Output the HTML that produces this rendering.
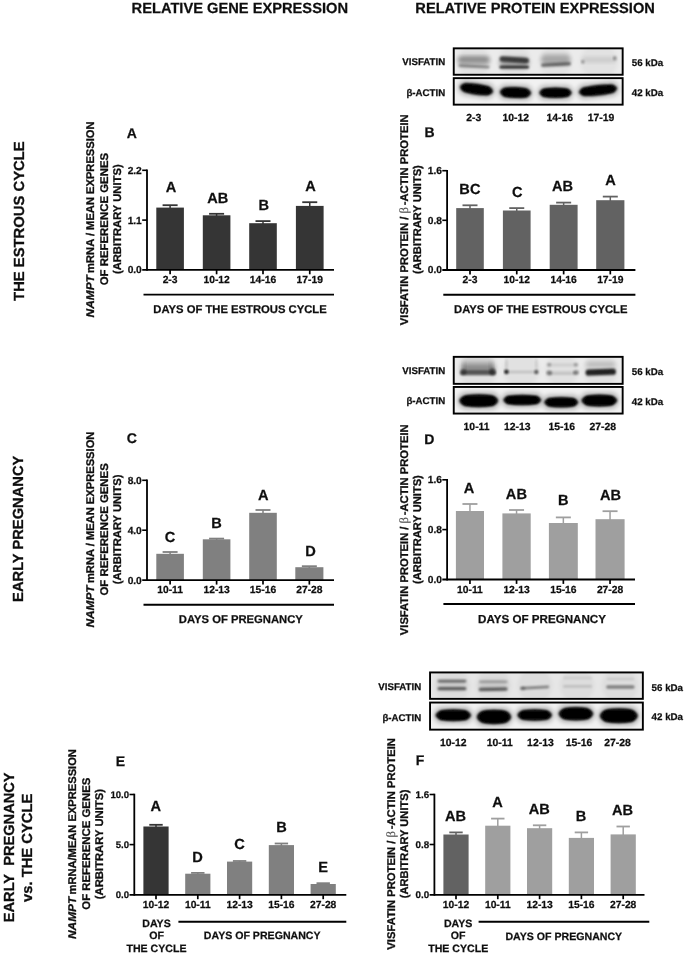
<!DOCTYPE html>
<html><head><meta charset="utf-8"><title>Figure</title>
<style>
html,body{margin:0;padding:0;background:#fff;}
body{width:685px;height:955px;overflow:hidden;font-family:"Liberation Sans",sans-serif;}
svg{display:block;}
</style></head><body>
<svg width="685" height="955" viewBox="0 0 685 955" text-rendering="geometricPrecision" font-family="Liberation Sans, sans-serif" font-weight="bold">
<defs>
<filter id="b1" x="-20%" y="-60%" width="140%" height="220%"><feGaussianBlur stdDeviation="1.1"/></filter>
<filter id="b2" x="-20%" y="-60%" width="140%" height="220%"><feGaussianBlur stdDeviation="2"/></filter>
<filter id="b3" x="-20%" y="-60%" width="140%" height="220%"><feGaussianBlur stdDeviation="2.6"/></filter>
<filter id="soft" x="0" y="0" width="685" height="955" filterUnits="userSpaceOnUse"><feGaussianBlur stdDeviation="0.4"/></filter>
<filter id="b0" x="-20%" y="-60%" width="140%" height="220%"><feGaussianBlur stdDeviation="0.7"/></filter>
</defs>
<rect width="685" height="955" fill="#fff"/>
<g filter="url(#soft)">
<text x="239.8" y="13.3" font-size="14.66" text-anchor="middle" fill="#111" stroke="#111" stroke-width="0.25" >RELATIVE GENE EXPRESSION</text>
<text x="535.1" y="12.9" font-size="14.64" text-anchor="middle" fill="#111" stroke="#111" stroke-width="0.25" >RELATIVE PROTEIN EXPRESSION</text>
<text transform="translate(24.1 300.9) rotate(-90)" font-size="14.6" text-anchor="start" textLength="159.60" lengthAdjust="spacingAndGlyphs" fill="#111" stroke="#111" stroke-width="0.3" >THE ESTROUS CYCLE</text>
<text transform="translate(22.9 601.9) rotate(-90)" font-size="14.6" text-anchor="start" textLength="146.30" lengthAdjust="spacingAndGlyphs" fill="#111" stroke="#111" stroke-width="0.3" >EARLY PREGNANCY</text>
<text transform="translate(13.7 922.2) rotate(-90)" font-size="14.6" text-anchor="start" textLength="149.80" lengthAdjust="spacingAndGlyphs" fill="#111" stroke="#111" stroke-width="0.3" >EARLY&#160; PREGNANCY</text>
<text transform="translate(32.0 902.0) rotate(-90)" font-size="14.6" text-anchor="start" textLength="108.30" lengthAdjust="spacingAndGlyphs" fill="#111" stroke="#111" stroke-width="0.3" >vs. THE CYCLE</text>
<text transform="translate(94.1 317.40000000000003) rotate(-90)" font-size="11.2" text-anchor="start" textLength="42.20" lengthAdjust="spacingAndGlyphs" fill="#111" stroke="#111" stroke-width="0.3" font-style="italic">NAMPT</text>
<text transform="translate(94.1 272.90000000000003) rotate(-90)" font-size="11.2" text-anchor="start" textLength="151.50" lengthAdjust="spacingAndGlyphs" fill="#111" stroke="#111" stroke-width="0.3" >mRNA / MEAN EXPRESSION</text>
<text transform="translate(108.0 285.3) rotate(-90)" font-size="11.2" text-anchor="start" textLength="132.40" lengthAdjust="spacingAndGlyphs" fill="#111" stroke="#111" stroke-width="0.3" >OF REFERENCE GENES</text>
<text transform="translate(121.3 274.1) rotate(-90)" font-size="11.2" text-anchor="start" textLength="109.80" lengthAdjust="spacingAndGlyphs" fill="#111" stroke="#111" stroke-width="0.3" >(ARBITRARY UNITS)</text>
<text x="131.7" y="138.2" font-size="14" text-anchor="middle" fill="#111" stroke="#111" stroke-width="0.25" >A</text>
<line x1="170.10000000000002" y1="205.2" x2="170.10000000000002" y2="208.6" stroke="#343434" stroke-width="1.5"/>
<line x1="162.60000000000002" y1="205.2" x2="177.60000000000002" y2="205.2" stroke="#343434" stroke-width="1.8"/>
<rect x="156.3" y="207.6" width="27.599999999999994" height="62.29999999999998" fill="#343434"/>
<line x1="216.60000000000002" y1="213.8" x2="216.60000000000002" y2="216.3" stroke="#343434" stroke-width="1.5"/>
<line x1="209.10000000000002" y1="213.8" x2="224.10000000000002" y2="213.8" stroke="#343434" stroke-width="1.8"/>
<rect x="202.8" y="215.3" width="27.599999999999994" height="54.599999999999966" fill="#343434"/>
<line x1="263.0" y1="221.1" x2="263.0" y2="224.2" stroke="#343434" stroke-width="1.5"/>
<line x1="255.5" y1="221.1" x2="270.5" y2="221.1" stroke="#343434" stroke-width="1.8"/>
<rect x="249.2" y="223.2" width="27.600000000000023" height="46.69999999999999" fill="#343434"/>
<line x1="309.75" y1="202.2" x2="309.75" y2="206.9" stroke="#343434" stroke-width="1.5"/>
<line x1="302.25" y1="202.2" x2="317.25" y2="202.2" stroke="#343434" stroke-width="1.8"/>
<rect x="295.9" y="205.9" width="27.700000000000045" height="63.99999999999997" fill="#343434"/>
<line x1="147" y1="169.5" x2="147" y2="270.79999999999995" stroke="#000" stroke-width="1.8"/>
<line x1="142.2" y1="269.9" x2="334" y2="269.9" stroke="#000" stroke-width="1.8"/>
<line x1="142.2" y1="170.3" x2="147" y2="170.3" stroke="#000" stroke-width="1.6"/>
<text x="141.8" y="173.70000000000002" font-size="10.2" text-anchor="end" fill="#111" stroke="#111" stroke-width="0.25" >2.2</text>
<line x1="142.2" y1="220.1" x2="147" y2="220.1" stroke="#000" stroke-width="1.6"/>
<text x="141.8" y="223.5" font-size="10.2" text-anchor="end" fill="#111" stroke="#111" stroke-width="0.25" >1.1</text>
<text x="141.8" y="273.29999999999995" font-size="10.2" text-anchor="end" fill="#111" stroke="#111" stroke-width="0.25" >0.0</text>
<line x1="170.10000000000002" y1="269.9" x2="170.10000000000002" y2="274.29999999999995" stroke="#000" stroke-width="1.7"/>
<text x="170.10000000000002" y="283.09999999999997" font-size="10.3" text-anchor="middle" fill="#111" stroke="#111" stroke-width="0.25" >2-3</text>
<line x1="216.60000000000002" y1="269.9" x2="216.60000000000002" y2="274.29999999999995" stroke="#000" stroke-width="1.7"/>
<text x="216.60000000000002" y="283.09999999999997" font-size="10.3" text-anchor="middle" fill="#111" stroke="#111" stroke-width="0.25" >10-12</text>
<line x1="263.0" y1="269.9" x2="263.0" y2="274.29999999999995" stroke="#000" stroke-width="1.7"/>
<text x="263.0" y="283.09999999999997" font-size="10.3" text-anchor="middle" fill="#111" stroke="#111" stroke-width="0.25" >14-16</text>
<line x1="309.75" y1="269.9" x2="309.75" y2="274.29999999999995" stroke="#000" stroke-width="1.7"/>
<text x="309.75" y="283.09999999999997" font-size="10.3" text-anchor="middle" fill="#111" stroke="#111" stroke-width="0.25" >17-19</text>
<text x="171" y="192.29999999999998" font-size="14.6" text-anchor="middle" fill="#111" stroke="#111" stroke-width="0.25" >A</text>
<text x="217.8" y="202.6" font-size="14.6" text-anchor="middle" fill="#111" stroke="#111" stroke-width="0.25" >AB</text>
<text x="263.8" y="209.6" font-size="14.6" text-anchor="middle" fill="#111" stroke="#111" stroke-width="0.25" >B</text>
<text x="310.6" y="190.9" font-size="14.6" text-anchor="middle" fill="#111" stroke="#111" stroke-width="0.25" >A</text>
<line x1="143.5" y1="294.6" x2="334" y2="294.6" stroke="#000" stroke-width="1.9"/>
<text x="240" y="312.8" font-size="11.25" text-anchor="middle" fill="#111" stroke="#111" stroke-width="0.25" >DAYS OF THE ESTROUS CYCLE</text>
<text transform="translate(94.1 627.5999999999999) rotate(-90)" font-size="11.2" text-anchor="start" textLength="42.20" lengthAdjust="spacingAndGlyphs" fill="#111" stroke="#111" stroke-width="0.3" font-style="italic">NAMPT</text>
<text transform="translate(94.1 583.1) rotate(-90)" font-size="11.2" text-anchor="start" textLength="151.50" lengthAdjust="spacingAndGlyphs" fill="#111" stroke="#111" stroke-width="0.3" >mRNA / MEAN EXPRESSION</text>
<text transform="translate(108.0 595.5) rotate(-90)" font-size="11.2" text-anchor="start" textLength="132.30" lengthAdjust="spacingAndGlyphs" fill="#111" stroke="#111" stroke-width="0.3" >OF REFERENCE GENES</text>
<text transform="translate(121.3 584.3) rotate(-90)" font-size="11.2" text-anchor="start" textLength="109.70" lengthAdjust="spacingAndGlyphs" fill="#111" stroke="#111" stroke-width="0.3" >(ARBITRARY UNITS)</text>
<text x="131.7" y="443" font-size="14" text-anchor="middle" fill="#111" stroke="#111" stroke-width="0.25" >C</text>
<line x1="170.10000000000002" y1="552.0" x2="170.10000000000002" y2="554.8" stroke="#808080" stroke-width="1.5"/>
<line x1="162.60000000000002" y1="552.0" x2="177.60000000000002" y2="552.0" stroke="#808080" stroke-width="1.8"/>
<rect x="156.3" y="553.8" width="27.599999999999994" height="26.40000000000009" fill="#808080"/>
<line x1="216.60000000000002" y1="538.6" x2="216.60000000000002" y2="540.3" stroke="#808080" stroke-width="1.5"/>
<line x1="209.10000000000002" y1="538.6" x2="224.10000000000002" y2="538.6" stroke="#808080" stroke-width="1.8"/>
<rect x="202.8" y="539.3" width="27.599999999999994" height="40.90000000000009" fill="#808080"/>
<line x1="263.0" y1="510" x2="263.0" y2="513.8" stroke="#808080" stroke-width="1.5"/>
<line x1="255.5" y1="510" x2="270.5" y2="510" stroke="#808080" stroke-width="1.8"/>
<rect x="249.2" y="512.8" width="27.600000000000023" height="67.40000000000009" fill="#808080"/>
<line x1="309.35" y1="566.2" x2="309.35" y2="568.2" stroke="#808080" stroke-width="1.5"/>
<line x1="301.85" y1="566.2" x2="316.85" y2="566.2" stroke="#808080" stroke-width="1.8"/>
<rect x="295.3" y="567.2" width="28.099999999999966" height="13.0" fill="#808080"/>
<line x1="147" y1="479.5" x2="147" y2="581.1" stroke="#000" stroke-width="1.8"/>
<line x1="142.2" y1="580.2" x2="334" y2="580.2" stroke="#000" stroke-width="1.8"/>
<line x1="142.2" y1="480.3" x2="147" y2="480.3" stroke="#000" stroke-width="1.6"/>
<text x="141.8" y="483.7" font-size="10.2" text-anchor="end" fill="#111" stroke="#111" stroke-width="0.25" >8.0</text>
<line x1="142.2" y1="530.2" x2="147" y2="530.2" stroke="#000" stroke-width="1.6"/>
<text x="141.8" y="533.6" font-size="10.2" text-anchor="end" fill="#111" stroke="#111" stroke-width="0.25" >4.0</text>
<text x="141.8" y="583.6" font-size="10.2" text-anchor="end" fill="#111" stroke="#111" stroke-width="0.25" >0.0</text>
<line x1="170.10000000000002" y1="580.2" x2="170.10000000000002" y2="584.6" stroke="#000" stroke-width="1.7"/>
<text x="170.10000000000002" y="593.4000000000001" font-size="10.3" text-anchor="middle" fill="#111" stroke="#111" stroke-width="0.25" >10-11</text>
<line x1="216.60000000000002" y1="580.2" x2="216.60000000000002" y2="584.6" stroke="#000" stroke-width="1.7"/>
<text x="216.60000000000002" y="593.4000000000001" font-size="10.3" text-anchor="middle" fill="#111" stroke="#111" stroke-width="0.25" >12-13</text>
<line x1="263.0" y1="580.2" x2="263.0" y2="584.6" stroke="#000" stroke-width="1.7"/>
<text x="263.0" y="593.4000000000001" font-size="10.3" text-anchor="middle" fill="#111" stroke="#111" stroke-width="0.25" >15-16</text>
<line x1="309.35" y1="580.2" x2="309.35" y2="584.6" stroke="#000" stroke-width="1.7"/>
<text x="309.35" y="593.4000000000001" font-size="10.3" text-anchor="middle" fill="#111" stroke="#111" stroke-width="0.25" >27-28</text>
<text x="170" y="542.4" font-size="14.6" text-anchor="middle" fill="#111" stroke="#111" stroke-width="0.25" >C</text>
<text x="216.6" y="528.3000000000001" font-size="14.6" text-anchor="middle" fill="#111" stroke="#111" stroke-width="0.25" >B</text>
<text x="263.3" y="499.6" font-size="14.6" text-anchor="middle" fill="#111" stroke="#111" stroke-width="0.25" >A</text>
<text x="310.4" y="555.7" font-size="14.6" text-anchor="middle" fill="#111" stroke="#111" stroke-width="0.25" >D</text>
<line x1="143.5" y1="604.8" x2="334" y2="604.8" stroke="#000" stroke-width="1.9"/>
<text x="240.8" y="623.4" font-size="11.25" text-anchor="middle" fill="#111" stroke="#111" stroke-width="0.25" >DAYS OF PREGNANCY</text>
<text transform="translate(76.2 939.0) rotate(-90)" font-size="11.2" text-anchor="start" textLength="42.20" lengthAdjust="spacingAndGlyphs" fill="#111" stroke="#111" stroke-width="0.3" font-style="italic">NAMPT</text>
<text transform="translate(76.2 894.5000000000001) rotate(-90)" font-size="11.2" text-anchor="start" textLength="145.40" lengthAdjust="spacingAndGlyphs" fill="#111" stroke="#111" stroke-width="0.3" >mRNA/MEAN EXPRESSION</text>
<text transform="translate(90.0 909.7) rotate(-90)" font-size="11.2" text-anchor="start" textLength="132.00" lengthAdjust="spacingAndGlyphs" fill="#111" stroke="#111" stroke-width="0.3" >OF REFERENCE GENES</text>
<text transform="translate(103.2 899.1999999999999) rotate(-90)" font-size="11.2" text-anchor="start" textLength="110.20" lengthAdjust="spacingAndGlyphs" fill="#111" stroke="#111" stroke-width="0.3" >(ARBITRARY UNITS)</text>
<text x="120.3" y="765.5" font-size="14" text-anchor="middle" fill="#111" stroke="#111" stroke-width="0.25" >E</text>
<line x1="156.0" y1="824.8" x2="156.0" y2="827.5" stroke="#343434" stroke-width="1.5"/>
<line x1="149.3" y1="824.8" x2="162.7" y2="824.8" stroke="#343434" stroke-width="1.8"/>
<rect x="143.4" y="826.5" width="25.19999999999999" height="68.29999999999995" fill="#343434"/>
<line x1="197.8" y1="872.9" x2="197.8" y2="874.7" stroke="#808080" stroke-width="1.5"/>
<line x1="191.10000000000002" y1="872.9" x2="204.5" y2="872.9" stroke="#808080" stroke-width="1.8"/>
<rect x="185.2" y="873.7" width="25.200000000000017" height="21.09999999999991" fill="#808080"/>
<line x1="239.6" y1="861.0" x2="239.6" y2="862.6" stroke="#808080" stroke-width="1.5"/>
<line x1="232.9" y1="861.0" x2="246.29999999999998" y2="861.0" stroke="#808080" stroke-width="1.8"/>
<rect x="227.0" y="861.6" width="25.19999999999999" height="33.19999999999993" fill="#808080"/>
<line x1="281.4" y1="843.5" x2="281.4" y2="846.1" stroke="#808080" stroke-width="1.5"/>
<line x1="274.7" y1="843.5" x2="288.09999999999997" y2="843.5" stroke="#808080" stroke-width="1.8"/>
<rect x="268.8" y="845.1" width="25.19999999999999" height="49.69999999999993" fill="#808080"/>
<line x1="323.20000000000005" y1="883.2" x2="323.20000000000005" y2="885.0" stroke="#808080" stroke-width="1.5"/>
<line x1="316.50000000000006" y1="883.2" x2="329.90000000000003" y2="883.2" stroke="#808080" stroke-width="1.8"/>
<rect x="310.6" y="884.0" width="25.19999999999999" height="10.799999999999955" fill="#808080"/>
<line x1="134.3" y1="793.7" x2="134.3" y2="895.6999999999999" stroke="#000" stroke-width="1.8"/>
<line x1="129.5" y1="894.8" x2="346.3" y2="894.8" stroke="#000" stroke-width="1.8"/>
<line x1="129.5" y1="794.5" x2="134.3" y2="794.5" stroke="#000" stroke-width="1.6"/>
<text x="129.10000000000002" y="797.7" font-size="9.6" text-anchor="end" fill="#111" stroke="#111" stroke-width="0.25" >10.0</text>
<line x1="129.5" y1="844.6" x2="134.3" y2="844.6" stroke="#000" stroke-width="1.6"/>
<text x="129.10000000000002" y="847.8000000000001" font-size="9.6" text-anchor="end" fill="#111" stroke="#111" stroke-width="0.25" >5.0</text>
<text x="129.10000000000002" y="898.0" font-size="9.6" text-anchor="end" fill="#111" stroke="#111" stroke-width="0.25" >0.0</text>
<line x1="156.0" y1="894.8" x2="156.0" y2="899.1999999999999" stroke="#000" stroke-width="1.7"/>
<text x="156.0" y="908.0" font-size="10.3" text-anchor="middle" fill="#111" stroke="#111" stroke-width="0.25" >10-12</text>
<line x1="197.8" y1="894.8" x2="197.8" y2="899.1999999999999" stroke="#000" stroke-width="1.7"/>
<text x="197.8" y="908.0" font-size="10.3" text-anchor="middle" fill="#111" stroke="#111" stroke-width="0.25" >10-11</text>
<line x1="239.6" y1="894.8" x2="239.6" y2="899.1999999999999" stroke="#000" stroke-width="1.7"/>
<text x="239.6" y="908.0" font-size="10.3" text-anchor="middle" fill="#111" stroke="#111" stroke-width="0.25" >12-13</text>
<line x1="281.4" y1="894.8" x2="281.4" y2="899.1999999999999" stroke="#000" stroke-width="1.7"/>
<text x="281.4" y="908.0" font-size="10.3" text-anchor="middle" fill="#111" stroke="#111" stroke-width="0.25" >15-16</text>
<line x1="323.20000000000005" y1="894.8" x2="323.20000000000005" y2="899.1999999999999" stroke="#000" stroke-width="1.7"/>
<text x="323.20000000000005" y="908.0" font-size="10.3" text-anchor="middle" fill="#111" stroke="#111" stroke-width="0.25" >27-28</text>
<text x="155.7" y="810.8000000000001" font-size="14.6" text-anchor="middle" fill="#111" stroke="#111" stroke-width="0.25" >A</text>
<text x="197.6" y="861.5" font-size="14.6" text-anchor="middle" fill="#111" stroke="#111" stroke-width="0.25" >D</text>
<text x="239.4" y="849.2" font-size="14.6" text-anchor="middle" fill="#111" stroke="#111" stroke-width="0.25" >C</text>
<text x="281.5" y="831.6" font-size="14.6" text-anchor="middle" fill="#111" stroke="#111" stroke-width="0.25" >B</text>
<text x="323" y="872.0" font-size="14.6" text-anchor="middle" fill="#111" stroke="#111" stroke-width="0.25" >E</text>
<line x1="178.4" y1="921.7" x2="346.3" y2="921.7" stroke="#000" stroke-width="1.9"/>
<text x="262.2" y="939.4" font-size="10.6" text-anchor="middle" fill="#111" stroke="#111" stroke-width="0.25" >DAYS OF PREGNANCY</text>
<text x="156.5" y="926.8" font-size="10.6" text-anchor="middle" fill="#111" stroke="#111" stroke-width="0.25" >DAYS</text>
<text x="156.5" y="939.3" font-size="10.6" text-anchor="middle" fill="#111" stroke="#111" stroke-width="0.25" >OF</text>
<text x="156.5" y="951.8" font-size="10.6" text-anchor="middle" fill="#111" stroke="#111" stroke-width="0.25" >THE CYCLE</text>
<text transform="translate(408.1 325.2) rotate(-90)" font-size="11.2" text-anchor="start" textLength="210.80" lengthAdjust="spacingAndGlyphs" fill="#111" stroke="#111" stroke-width="0.3" >VISFATIN PROTEIN / <tspan font-family="Liberation Serif, serif" font-weight="normal" fill="#555" stroke="#555" stroke-width="0.15" font-size="12.5">&#946;</tspan><tspan dx="1.8">-ACTIN PROTEIN</tspan></text>
<text transform="translate(421.0 273.90000000000003) rotate(-90)" font-size="11.2" text-anchor="start" textLength="108.70" lengthAdjust="spacingAndGlyphs" fill="#111" stroke="#111" stroke-width="0.3" >(ARBITRARY UNITS)</text>
<text x="429.5" y="137" font-size="14" text-anchor="middle" fill="#111" stroke="#111" stroke-width="0.25" >B</text>
<line x1="470.0" y1="205.3" x2="470.0" y2="209.1" stroke="#626262" stroke-width="1.5"/>
<line x1="462.5" y1="205.3" x2="477.5" y2="205.3" stroke="#626262" stroke-width="1.8"/>
<rect x="456.2" y="208.1" width="27.600000000000023" height="61.900000000000006" fill="#626262"/>
<line x1="516.75" y1="208.1" x2="516.75" y2="211.5" stroke="#626262" stroke-width="1.5"/>
<line x1="509.25" y1="208.1" x2="524.25" y2="208.1" stroke="#626262" stroke-width="1.8"/>
<rect x="502.9" y="210.5" width="27.700000000000045" height="59.5" fill="#626262"/>
<line x1="563.6500000000001" y1="202.6" x2="563.6500000000001" y2="205.8" stroke="#626262" stroke-width="1.5"/>
<line x1="556.1500000000001" y1="202.6" x2="571.1500000000001" y2="202.6" stroke="#626262" stroke-width="1.8"/>
<rect x="549.7" y="204.8" width="27.899999999999977" height="65.19999999999999" fill="#626262"/>
<line x1="610.3" y1="196.6" x2="610.3" y2="201.2" stroke="#626262" stroke-width="1.5"/>
<line x1="602.8" y1="196.6" x2="617.8" y2="196.6" stroke="#626262" stroke-width="1.8"/>
<rect x="596.2" y="200.2" width="28.199999999999932" height="69.80000000000001" fill="#626262"/>
<line x1="447.1" y1="169.89999999999998" x2="447.1" y2="270.9" stroke="#000" stroke-width="1.8"/>
<line x1="442.3" y1="270.0" x2="635.4" y2="270.0" stroke="#000" stroke-width="1.8"/>
<line x1="442.3" y1="170.7" x2="447.1" y2="170.7" stroke="#000" stroke-width="1.6"/>
<text x="441.90000000000003" y="174.1" font-size="10.2" text-anchor="end" fill="#111" stroke="#111" stroke-width="0.25" >1.6</text>
<line x1="442.3" y1="220.3" x2="447.1" y2="220.3" stroke="#000" stroke-width="1.6"/>
<text x="441.90000000000003" y="223.70000000000002" font-size="10.2" text-anchor="end" fill="#111" stroke="#111" stroke-width="0.25" >0.8</text>
<text x="441.90000000000003" y="273.4" font-size="10.2" text-anchor="end" fill="#111" stroke="#111" stroke-width="0.25" >0.0</text>
<line x1="470.0" y1="270.0" x2="470.0" y2="274.4" stroke="#000" stroke-width="1.7"/>
<text x="470.0" y="283.2" font-size="10.3" text-anchor="middle" fill="#111" stroke="#111" stroke-width="0.25" >2-3</text>
<line x1="516.75" y1="270.0" x2="516.75" y2="274.4" stroke="#000" stroke-width="1.7"/>
<text x="516.75" y="283.2" font-size="10.3" text-anchor="middle" fill="#111" stroke="#111" stroke-width="0.25" >10-12</text>
<line x1="563.6500000000001" y1="270.0" x2="563.6500000000001" y2="274.4" stroke="#000" stroke-width="1.7"/>
<text x="563.6500000000001" y="283.2" font-size="10.3" text-anchor="middle" fill="#111" stroke="#111" stroke-width="0.25" >14-16</text>
<line x1="610.3" y1="270.0" x2="610.3" y2="274.4" stroke="#000" stroke-width="1.7"/>
<text x="610.3" y="283.2" font-size="10.3" text-anchor="middle" fill="#111" stroke="#111" stroke-width="0.25" >17-19</text>
<text x="469.9" y="193.7" font-size="14.6" text-anchor="middle" fill="#111" stroke="#111" stroke-width="0.25" >BC</text>
<text x="517.2" y="196.79999999999998" font-size="14.6" text-anchor="middle" fill="#111" stroke="#111" stroke-width="0.25" >C</text>
<text x="562.5" y="190.9" font-size="14.6" text-anchor="middle" fill="#111" stroke="#111" stroke-width="0.25" >AB</text>
<text x="610.5" y="185.0" font-size="14.6" text-anchor="middle" fill="#111" stroke="#111" stroke-width="0.25" >A</text>
<line x1="443.3" y1="294.8" x2="635.4" y2="294.8" stroke="#000" stroke-width="1.9"/>
<text x="540.8" y="312.6" font-size="11.25" text-anchor="middle" fill="#111" stroke="#111" stroke-width="0.25" >DAYS OF THE ESTROUS CYCLE</text>
<text transform="translate(408.1 635.1999999999999) rotate(-90)" font-size="11.2" text-anchor="start" textLength="210.80" lengthAdjust="spacingAndGlyphs" fill="#111" stroke="#111" stroke-width="0.3" >VISFATIN PROTEIN / <tspan font-family="Liberation Serif, serif" font-weight="normal" fill="#555" stroke="#555" stroke-width="0.15" font-size="12.5">&#946;</tspan><tspan dx="1.8">-ACTIN PROTEIN</tspan></text>
<text transform="translate(421.0 583.9) rotate(-90)" font-size="11.2" text-anchor="start" textLength="108.70" lengthAdjust="spacingAndGlyphs" fill="#111" stroke="#111" stroke-width="0.3" >(ARBITRARY UNITS)</text>
<text x="429.2" y="444" font-size="14" text-anchor="middle" fill="#111" stroke="#111" stroke-width="0.25" >D</text>
<line x1="469.95" y1="504.0" x2="469.95" y2="512.0" stroke="#9f9f9f" stroke-width="1.5"/>
<line x1="462.45" y1="504.0" x2="477.45" y2="504.0" stroke="#9f9f9f" stroke-width="1.8"/>
<rect x="455.9" y="511.0" width="28.100000000000023" height="68.5" fill="#9f9f9f"/>
<line x1="516.55" y1="510.0" x2="516.55" y2="514.4" stroke="#9f9f9f" stroke-width="1.5"/>
<line x1="509.04999999999995" y1="510.0" x2="524.05" y2="510.0" stroke="#9f9f9f" stroke-width="1.8"/>
<rect x="502.4" y="513.4" width="28.300000000000068" height="66.10000000000002" fill="#9f9f9f"/>
<line x1="563.3499999999999" y1="517.4" x2="563.3499999999999" y2="524.0" stroke="#9f9f9f" stroke-width="1.5"/>
<line x1="555.8499999999999" y1="517.4" x2="570.8499999999999" y2="517.4" stroke="#9f9f9f" stroke-width="1.8"/>
<rect x="548.9" y="523.0" width="28.899999999999977" height="56.5" fill="#9f9f9f"/>
<line x1="610.05" y1="511.2" x2="610.05" y2="520.2" stroke="#9f9f9f" stroke-width="1.5"/>
<line x1="602.55" y1="511.2" x2="617.55" y2="511.2" stroke="#9f9f9f" stroke-width="1.8"/>
<rect x="595.5" y="519.2" width="29.100000000000023" height="60.299999999999955" fill="#9f9f9f"/>
<line x1="447.1" y1="479.0" x2="447.1" y2="580.4" stroke="#000" stroke-width="1.8"/>
<line x1="442.3" y1="579.5" x2="635.0" y2="579.5" stroke="#000" stroke-width="1.8"/>
<line x1="442.3" y1="479.8" x2="447.1" y2="479.8" stroke="#000" stroke-width="1.6"/>
<text x="441.90000000000003" y="483.2" font-size="10.2" text-anchor="end" fill="#111" stroke="#111" stroke-width="0.25" >1.6</text>
<line x1="442.3" y1="529.6" x2="447.1" y2="529.6" stroke="#000" stroke-width="1.6"/>
<text x="441.90000000000003" y="533.0" font-size="10.2" text-anchor="end" fill="#111" stroke="#111" stroke-width="0.25" >0.8</text>
<text x="441.90000000000003" y="582.9" font-size="10.2" text-anchor="end" fill="#111" stroke="#111" stroke-width="0.25" >0.0</text>
<line x1="469.95" y1="579.5" x2="469.95" y2="583.9" stroke="#000" stroke-width="1.7"/>
<text x="469.95" y="592.7" font-size="10.3" text-anchor="middle" fill="#111" stroke="#111" stroke-width="0.25" >10-11</text>
<line x1="516.55" y1="579.5" x2="516.55" y2="583.9" stroke="#000" stroke-width="1.7"/>
<text x="516.55" y="592.7" font-size="10.3" text-anchor="middle" fill="#111" stroke="#111" stroke-width="0.25" >12-13</text>
<line x1="563.3499999999999" y1="579.5" x2="563.3499999999999" y2="583.9" stroke="#000" stroke-width="1.7"/>
<text x="563.3499999999999" y="592.7" font-size="10.3" text-anchor="middle" fill="#111" stroke="#111" stroke-width="0.25" >15-16</text>
<line x1="610.05" y1="579.5" x2="610.05" y2="583.9" stroke="#000" stroke-width="1.7"/>
<text x="610.05" y="592.7" font-size="10.3" text-anchor="middle" fill="#111" stroke="#111" stroke-width="0.25" >27-28</text>
<text x="469.1" y="492.70000000000005" font-size="14.6" text-anchor="middle" fill="#111" stroke="#111" stroke-width="0.25" >A</text>
<text x="516.4" y="499.1" font-size="14.6" text-anchor="middle" fill="#111" stroke="#111" stroke-width="0.25" >AB</text>
<text x="563.3" y="505.0" font-size="14.6" text-anchor="middle" fill="#111" stroke="#111" stroke-width="0.25" >B</text>
<text x="610.5" y="499.8" font-size="14.6" text-anchor="middle" fill="#111" stroke="#111" stroke-width="0.25" >AB</text>
<line x1="443.4" y1="604.0" x2="635.0" y2="604.0" stroke="#000" stroke-width="1.9"/>
<text x="542.0" y="622.8" font-size="11.6" text-anchor="middle" fill="#111" stroke="#111" stroke-width="0.25" >DAYS OF PREGNANCY</text>
<text transform="translate(394.5 949.6999999999999) rotate(-90)" font-size="11.2" text-anchor="start" textLength="211.60" lengthAdjust="spacingAndGlyphs" fill="#111" stroke="#111" stroke-width="0.3" >VISFATIN PROTEIN / <tspan font-family="Liberation Serif, serif" font-weight="normal" fill="#555" stroke="#555" stroke-width="0.15" font-size="12.5">&#946;</tspan><tspan dx="1.8">-ACTIN PROTEIN</tspan></text>
<text transform="translate(407.5 898.3) rotate(-90)" font-size="11.2" text-anchor="start" textLength="108.70" lengthAdjust="spacingAndGlyphs" fill="#111" stroke="#111" stroke-width="0.3" >(ARBITRARY UNITS)</text>
<text x="420" y="764.5" font-size="14" text-anchor="middle" fill="#111" stroke="#111" stroke-width="0.25" >F</text>
<line x1="456.0" y1="832.4" x2="456.0" y2="835.5" stroke="#626262" stroke-width="1.5"/>
<line x1="449.3" y1="832.4" x2="462.7" y2="832.4" stroke="#626262" stroke-width="1.8"/>
<rect x="443.4" y="834.5" width="25.200000000000045" height="60.299999999999955" fill="#626262"/>
<line x1="497.79999999999995" y1="818.6" x2="497.79999999999995" y2="826.7" stroke="#9f9f9f" stroke-width="1.5"/>
<line x1="491.09999999999997" y1="818.6" x2="504.49999999999994" y2="818.6" stroke="#9f9f9f" stroke-width="1.8"/>
<rect x="485.2" y="825.7" width="25.19999999999999" height="69.09999999999991" fill="#9f9f9f"/>
<line x1="539.6" y1="825.3" x2="539.6" y2="829.2" stroke="#9f9f9f" stroke-width="1.5"/>
<line x1="532.9" y1="825.3" x2="546.3000000000001" y2="825.3" stroke="#9f9f9f" stroke-width="1.8"/>
<rect x="527.0" y="828.2" width="25.200000000000045" height="66.59999999999991" fill="#9f9f9f"/>
<line x1="581.4" y1="832.4" x2="581.4" y2="838.9" stroke="#9f9f9f" stroke-width="1.5"/>
<line x1="574.6999999999999" y1="832.4" x2="588.1" y2="832.4" stroke="#9f9f9f" stroke-width="1.8"/>
<rect x="568.8" y="837.9" width="25.200000000000045" height="56.89999999999998" fill="#9f9f9f"/>
<line x1="623.2" y1="826.5" x2="623.2" y2="835.4" stroke="#9f9f9f" stroke-width="1.5"/>
<line x1="616.5" y1="826.5" x2="629.9000000000001" y2="826.5" stroke="#9f9f9f" stroke-width="1.8"/>
<rect x="610.6" y="834.4" width="25.199999999999932" height="60.39999999999998" fill="#9f9f9f"/>
<line x1="434.4" y1="793.7" x2="434.4" y2="895.6999999999999" stroke="#000" stroke-width="1.8"/>
<line x1="429.59999999999997" y1="894.8" x2="644.5" y2="894.8" stroke="#000" stroke-width="1.8"/>
<line x1="429.59999999999997" y1="794.5" x2="434.4" y2="794.5" stroke="#000" stroke-width="1.6"/>
<text x="429.2" y="797.7666666666667" font-size="9.8" text-anchor="end" fill="#111" stroke="#111" stroke-width="0.25" >1.6</text>
<line x1="429.59999999999997" y1="844.5" x2="434.4" y2="844.5" stroke="#000" stroke-width="1.6"/>
<text x="429.2" y="847.7666666666667" font-size="9.8" text-anchor="end" fill="#111" stroke="#111" stroke-width="0.25" >0.8</text>
<text x="429.2" y="898.0666666666666" font-size="9.8" text-anchor="end" fill="#111" stroke="#111" stroke-width="0.25" >0.0</text>
<line x1="456.0" y1="894.8" x2="456.0" y2="899.1999999999999" stroke="#000" stroke-width="1.7"/>
<text x="456.0" y="908.0" font-size="10.3" text-anchor="middle" fill="#111" stroke="#111" stroke-width="0.25" >10-12</text>
<line x1="497.79999999999995" y1="894.8" x2="497.79999999999995" y2="899.1999999999999" stroke="#000" stroke-width="1.7"/>
<text x="497.79999999999995" y="908.0" font-size="10.3" text-anchor="middle" fill="#111" stroke="#111" stroke-width="0.25" >10-11</text>
<line x1="539.6" y1="894.8" x2="539.6" y2="899.1999999999999" stroke="#000" stroke-width="1.7"/>
<text x="539.6" y="908.0" font-size="10.3" text-anchor="middle" fill="#111" stroke="#111" stroke-width="0.25" >12-13</text>
<line x1="581.4" y1="894.8" x2="581.4" y2="899.1999999999999" stroke="#000" stroke-width="1.7"/>
<text x="581.4" y="908.0" font-size="10.3" text-anchor="middle" fill="#111" stroke="#111" stroke-width="0.25" >15-16</text>
<line x1="623.2" y1="894.8" x2="623.2" y2="899.1999999999999" stroke="#000" stroke-width="1.7"/>
<text x="623.2" y="908.0" font-size="10.3" text-anchor="middle" fill="#111" stroke="#111" stroke-width="0.25" >27-28</text>
<text x="455.6" y="821.2" font-size="14.6" text-anchor="middle" fill="#111" stroke="#111" stroke-width="0.25" >AB</text>
<text x="497.4" y="806.9" font-size="14.6" text-anchor="middle" fill="#111" stroke="#111" stroke-width="0.25" >A</text>
<text x="539.2" y="813.6" font-size="14.6" text-anchor="middle" fill="#111" stroke="#111" stroke-width="0.25" >AB</text>
<text x="581.0" y="820.6" font-size="14.6" text-anchor="middle" fill="#111" stroke="#111" stroke-width="0.25" >B</text>
<text x="622.6" y="814.6" font-size="14.6" text-anchor="middle" fill="#111" stroke="#111" stroke-width="0.25" >AB</text>
<line x1="478.6" y1="921.7" x2="649.3" y2="921.7" stroke="#000" stroke-width="1.9"/>
<text x="563.8" y="939.8" font-size="10.6" text-anchor="middle" fill="#111" stroke="#111" stroke-width="0.25" >DAYS OF PREGNANCY</text>
<text x="458.2" y="926.8" font-size="10.6" text-anchor="middle" fill="#111" stroke="#111" stroke-width="0.25" >DAYS</text>
<text x="458.2" y="939.3" font-size="10.6" text-anchor="middle" fill="#111" stroke="#111" stroke-width="0.25" >OF</text>
<text x="458.2" y="951.8" font-size="10.6" text-anchor="middle" fill="#111" stroke="#111" stroke-width="0.25" >THE CYCLE</text>
<clipPath id="cv1"><rect x="452.8" y="47.4" width="170.8" height="28.300000000000004"/></clipPath>
<clipPath id="ca1"><rect x="452.8" y="77.2" width="170.8" height="28.39999999999999"/></clipPath>
<rect x="452.8" y="47.4" width="170.8" height="28.300000000000004" fill="#ebebeb"/>
<rect x="452.8" y="77.2" width="170.8" height="28.39999999999999" fill="#f1f1f1"/>
<g clip-path="url(#cv1)">
<rect x="457" y="44.5" width="34" height="34" rx="17.0" fill="#000" opacity="0.035" filter="url(#b2)" transform="rotate(0 474.0 61.5)"/>
<rect x="498" y="44.5" width="33" height="34" rx="17.0" fill="#000" opacity="0.035" filter="url(#b2)" transform="rotate(0 514.5 61.5)"/>
<rect x="539" y="44.5" width="33" height="34" rx="17.0" fill="#000" opacity="0.035" filter="url(#b2)" transform="rotate(0 555.5 61.5)"/>
<rect x="580" y="44.5" width="38" height="34" rx="17.0" fill="#000" opacity="0.035" filter="url(#b2)" transform="rotate(0 599.0 61.5)"/>
<rect x="458" y="57.3" width="31.600000000000023" height="4" rx="2.0" fill="#000" opacity="0.3" filter="url(#b2)" transform="rotate(0 473.8 59.3)"/>
<rect x="458.5" y="64.89999999999999" width="31.100000000000023" height="2.8" rx="1.4" fill="#000" opacity="0.36" filter="url(#b1)" transform="rotate(3 474.05 66.3)"/>
<rect x="458" y="55.5" width="31.5" height="11" rx="5.5" fill="#000" opacity="0.2" filter="url(#b2)" transform="rotate(0 473.75 61)"/>
<rect x="499.5" y="57.05" width="29.5" height="5.5" rx="2.75" fill="#000" opacity="0.66" filter="url(#b1)" transform="rotate(4 514.25 59.8)"/>
<rect x="499.5" y="65.8" width="29.5" height="2.8" rx="1.4" fill="#000" opacity="0.8" filter="url(#b1)" transform="rotate(0 514.25 67.2)"/>
<rect x="499.5" y="57.0" width="29.5" height="11" rx="5.5" fill="#000" opacity="0.28" filter="url(#b2)" transform="rotate(0 514.25 62.5)"/>
<rect x="541" y="62.8" width="30" height="3.4" rx="1.7" fill="#000" opacity="0.5" filter="url(#b1)" transform="rotate(-3 556.0 64.5)"/>
<rect x="541" y="54.5" width="29.5" height="10" rx="5.0" fill="#000" opacity="0.26" filter="url(#b2)" transform="rotate(0 555.75 59.5)"/>
<rect x="582" y="57.55" width="34" height="4.5" rx="2.25" fill="#000" opacity="0.12" filter="url(#b2)" transform="rotate(0 599.0 59.8)"/>
<ellipse cx="582.8" cy="61.8" rx="1.7" ry="1.9" fill="#000" opacity="0.32" filter="url(#b1)" transform="rotate(0 582.8 61.8)"/>
<ellipse cx="614.8" cy="58.2" rx="1.7" ry="2.3" fill="#000" opacity="0.34" filter="url(#b1)" transform="rotate(0 614.8 58.2)"/>
</g><g clip-path="url(#ca1)">
<rect x="458.5" y="81.95" width="36.0" height="14.5" rx="7.25" fill="#000" opacity="0.3" filter="url(#b3)" transform="rotate(8 476.5 89.2)"/>
<ellipse cx="476.5" cy="89.2" rx="16.8" ry="5.5" fill="#000" opacity="0.85" filter="url(#b1)" transform="rotate(8 476.5 89.2)"/>
<rect x="461.8" y="84.9" width="29.399999999999977" height="8.6" rx="4.3" fill="#000" opacity="0.96" filter="url(#b1)" transform="rotate(8 476.5 89.2)"/>
<rect x="498.5" y="85.35" width="34.0" height="14.5" rx="7.25" fill="#000" opacity="0.3" filter="url(#b3)" transform="rotate(2 515.5 92.6)"/>
<ellipse cx="515.5" cy="92.6" rx="15.8" ry="5.5" fill="#000" opacity="0.85" filter="url(#b1)" transform="rotate(2 515.5 92.6)"/>
<rect x="501.8" y="88.3" width="27.400000000000034" height="8.6" rx="4.3" fill="#000" opacity="0.96" filter="url(#b1)" transform="rotate(2 515.5 92.6)"/>
<rect x="538.0" y="85.8" width="35.0" height="14.0" rx="7.0" fill="#000" opacity="0.3" filter="url(#b3)" transform="rotate(0 555.5 92.8)"/>
<ellipse cx="555.5" cy="92.8" rx="16.3" ry="5.25" fill="#000" opacity="0.85" filter="url(#b1)" transform="rotate(0 555.5 92.8)"/>
<rect x="541.3" y="88.75" width="28.40000000000009" height="8.1" rx="4.05" fill="#000" opacity="0.96" filter="url(#b1)" transform="rotate(0 555.5 92.8)"/>
<rect x="577.5" y="83.2" width="41.0" height="14.0" rx="7.0" fill="#000" opacity="0.3" filter="url(#b3)" transform="rotate(-6 598.0 90.2)"/>
<ellipse cx="598.0" cy="90.2" rx="19.3" ry="5.25" fill="#000" opacity="0.85" filter="url(#b1)" transform="rotate(-6 598.0 90.2)"/>
<rect x="580.8" y="86.15" width="34.40000000000009" height="8.1" rx="4.05" fill="#000" opacity="0.96" filter="url(#b1)" transform="rotate(-6 598.0 90.2)"/>
</g>
<rect x="453.75" y="48.35" width="168.9" height="26.400000000000006" fill="none" stroke="#000" stroke-width="1.9"/>
<rect x="453.75" y="78.15" width="168.9" height="26.499999999999993" fill="none" stroke="#000" stroke-width="1.9"/>
<text x="445.2" y="65.0" font-size="9.7" text-anchor="end" fill="#111" stroke="#111" stroke-width="0.25" >VISFATIN</text>
<text x="445.2" y="95.5" font-size="9.7" text-anchor="end" fill="#111" stroke="#111" stroke-width="0.25" >&#946;-ACTIN</text>
<text x="631.8" y="65.9" font-size="9.75" text-anchor="start" fill="#111" stroke="#111" stroke-width="0.25" >56 kDa</text>
<text x="631.8" y="96.1" font-size="9.75" text-anchor="start" fill="#111" stroke="#111" stroke-width="0.25" >42 kDa</text>
<text x="473.8" y="120.5" font-size="10.4" text-anchor="middle" fill="#111" stroke="#111" stroke-width="0.25" >2-3</text>
<text x="515.7" y="120.5" font-size="10.4" text-anchor="middle" fill="#111" stroke="#111" stroke-width="0.25" >10-12</text>
<text x="559.7" y="120.5" font-size="10.4" text-anchor="middle" fill="#111" stroke="#111" stroke-width="0.25" >14-16</text>
<text x="601" y="120.5" font-size="10.4" text-anchor="middle" fill="#111" stroke="#111" stroke-width="0.25" >17-19</text>
<clipPath id="cv2"><rect x="452.8" y="355.9" width="170.8" height="28.900000000000034"/></clipPath>
<clipPath id="ca2"><rect x="452.8" y="386.0" width="170.8" height="28.5"/></clipPath>
<rect x="452.8" y="355.9" width="170.8" height="28.900000000000034" fill="#ebebeb"/>
<rect x="452.8" y="386.0" width="170.8" height="28.5" fill="#f1f1f1"/>
<g clip-path="url(#cv2)">
<rect x="458" y="353.0" width="40" height="34" rx="17.0" fill="#000" opacity="0.04" filter="url(#b2)" transform="rotate(0 478.0 370)"/>
<rect x="503" y="353.0" width="37" height="34" rx="17.0" fill="#000" opacity="0.04" filter="url(#b2)" transform="rotate(0 521.5 370)"/>
<rect x="545" y="353.0" width="34" height="34" rx="17.0" fill="#000" opacity="0.04" filter="url(#b2)" transform="rotate(0 562.0 370)"/>
<rect x="583" y="353.0" width="35" height="34" rx="17.0" fill="#000" opacity="0.04" filter="url(#b2)" transform="rotate(0 600.5 370)"/>
<rect x="460" y="370.2" width="36" height="5" rx="2.5" fill="#000" opacity="0.55" filter="url(#b1)" transform="rotate(0 478.0 372.7)"/>
<rect x="461" y="365.5" width="34" height="7" rx="3.5" fill="#000" opacity="0.3" filter="url(#b2)" transform="rotate(0 478.0 369)"/>
<rect x="462" y="360.5" width="32" height="9" rx="4.5" fill="#000" opacity="0.2" filter="url(#b3)" transform="rotate(0 478.0 365)"/>
<ellipse cx="492.5" cy="371.8" rx="3.2" ry="3.8" fill="#000" opacity="0.45" filter="url(#b1)" transform="rotate(0 492.5 371.8)"/>
<ellipse cx="463.5" cy="372" rx="3" ry="3.2" fill="#000" opacity="0.35" filter="url(#b1)" transform="rotate(0 463.5 372)"/>
<rect x="462" y="361.5" width="4" height="9" rx="4.5" fill="#000" opacity="0.14" filter="url(#b2)" transform="rotate(0 464.0 366)"/>
<rect x="489.5" y="361.5" width="4.0" height="9" rx="4.5" fill="#000" opacity="0.16" filter="url(#b2)" transform="rotate(0 491.5 366)"/>
<ellipse cx="506.4" cy="371.8" rx="2.3" ry="2.4" fill="#000" opacity="0.85" filter="url(#b1)" transform="rotate(0 506.4 371.8)"/>
<ellipse cx="536.4" cy="372.0" rx="2.1" ry="2.3" fill="#000" opacity="0.6" filter="url(#b1)" transform="rotate(0 536.4 372.0)"/>
<rect x="507" y="370.75" width="29" height="2.5" rx="1.25" fill="#000" opacity="0.14" filter="url(#b1)" transform="rotate(0 521.5 372)"/>
<ellipse cx="549" cy="364.7" rx="2.2" ry="2" fill="#000" opacity="0.28" filter="url(#b1)" transform="rotate(0 549 364.7)"/>
<ellipse cx="576" cy="364.7" rx="2.2" ry="2" fill="#000" opacity="0.28" filter="url(#b1)" transform="rotate(0 576 364.7)"/>
<ellipse cx="549.2" cy="372.9" rx="2.8" ry="2.3" fill="#000" opacity="0.42" filter="url(#b1)" transform="rotate(0 549.2 372.9)"/>
<ellipse cx="576" cy="372.5" rx="2.8" ry="2.3" fill="#000" opacity="0.42" filter="url(#b1)" transform="rotate(0 576 372.5)"/>
<rect x="549" y="371.55" width="27" height="3.5" rx="1.75" fill="#000" opacity="0.13" filter="url(#b1)" transform="rotate(0 562.5 373.3)"/>
<rect x="549" y="363.5" width="27" height="3" rx="1.5" fill="#000" opacity="0.08" filter="url(#b1)" transform="rotate(0 562.5 365)"/>
<rect x="505.2" y="358.0" width="2.400000000000034" height="12" rx="6.0" fill="#000" opacity="0.12" filter="url(#b1)" transform="rotate(0 506.4 364)"/>
<rect x="535.2" y="358.0" width="2.3999999999999773" height="12" rx="6.0" fill="#000" opacity="0.1" filter="url(#b1)" transform="rotate(0 536.4000000000001 364)"/>
<rect x="585.5" y="369.09999999999997" width="30.5" height="6.2" rx="3.1" fill="#000" opacity="0.85" filter="url(#b1)" transform="rotate(-2 600.75 372.2)"/>
<rect x="586" y="362.0" width="29" height="5" rx="2.5" fill="#000" opacity="0.18" filter="url(#b2)" transform="rotate(0 600.5 364.5)"/>
</g><g clip-path="url(#ca2)">
<rect x="458.0" y="392.45" width="41.5" height="16.5" rx="8.25" fill="#000" opacity="0.3" filter="url(#b3)" transform="rotate(0 478.75 400.7)"/>
<ellipse cx="478.75" cy="400.7" rx="19.55" ry="6.5" fill="#000" opacity="0.85" filter="url(#b1)" transform="rotate(0 478.75 400.7)"/>
<rect x="461.3" y="395.4" width="34.89999999999998" height="10.6" rx="5.3" fill="#000" opacity="0.96" filter="url(#b1)" transform="rotate(0 478.75 400.7)"/>
<rect x="502.0" y="393.0" width="40.5" height="14.0" rx="7.0" fill="#000" opacity="0.3" filter="url(#b3)" transform="rotate(0 522.25 400)"/>
<ellipse cx="522.25" cy="400" rx="19.05" ry="5.25" fill="#000" opacity="0.85" filter="url(#b1)" transform="rotate(0 522.25 400)"/>
<rect x="505.3" y="395.95" width="33.900000000000034" height="8.1" rx="4.05" fill="#000" opacity="0.96" filter="url(#b1)" transform="rotate(0 522.25 400)"/>
<rect x="543.0" y="395.2" width="36.5" height="14.0" rx="7.0" fill="#000" opacity="0.3" filter="url(#b3)" transform="rotate(0 561.25 402.2)"/>
<ellipse cx="561.25" cy="402.2" rx="17.05" ry="5.25" fill="#000" opacity="0.85" filter="url(#b1)" transform="rotate(0 561.25 402.2)"/>
<rect x="546.3" y="398.15" width="29.90000000000009" height="8.1" rx="4.05" fill="#000" opacity="0.96" filter="url(#b1)" transform="rotate(0 561.25 402.2)"/>
<rect x="580.2" y="392.85" width="38.299999999999955" height="15.5" rx="7.75" fill="#000" opacity="0.3" filter="url(#b3)" transform="rotate(0 599.35 400.6)"/>
<ellipse cx="599.35" cy="400.6" rx="17.949999999999978" ry="6.0" fill="#000" opacity="0.85" filter="url(#b1)" transform="rotate(0 599.35 400.6)"/>
<rect x="583.5" y="395.8" width="31.700000000000045" height="9.6" rx="4.8" fill="#000" opacity="0.96" filter="url(#b1)" transform="rotate(0 599.35 400.6)"/>
</g>
<rect x="453.75" y="356.84999999999997" width="168.9" height="27.000000000000036" fill="none" stroke="#000" stroke-width="1.9"/>
<rect x="453.75" y="386.95" width="168.9" height="26.6" fill="none" stroke="#000" stroke-width="1.9"/>
<text x="445.2" y="374.2" font-size="9.7" text-anchor="end" fill="#111" stroke="#111" stroke-width="0.25" >VISFATIN</text>
<text x="445.2" y="404.3" font-size="9.7" text-anchor="end" fill="#111" stroke="#111" stroke-width="0.25" >&#946;-ACTIN</text>
<text x="631.8" y="375.0" font-size="9.75" text-anchor="start" fill="#111" stroke="#111" stroke-width="0.25" >56 kDa</text>
<text x="631.8" y="404.8" font-size="9.75" text-anchor="start" fill="#111" stroke="#111" stroke-width="0.25" >42 kDa</text>
<text x="476.6" y="430.3" font-size="10.4" text-anchor="middle" fill="#111" stroke="#111" stroke-width="0.25" >10-11</text>
<text x="517.2" y="430.3" font-size="10.4" text-anchor="middle" fill="#111" stroke="#111" stroke-width="0.25" >12-13</text>
<text x="561.7" y="430.3" font-size="10.4" text-anchor="middle" fill="#111" stroke="#111" stroke-width="0.25" >15-16</text>
<text x="602.7" y="430.3" font-size="10.4" text-anchor="middle" fill="#111" stroke="#111" stroke-width="0.25" >27-28</text>
<clipPath id="cv3"><rect x="429.1" y="671.5" width="214.69999999999993" height="28.299999999999955"/></clipPath>
<clipPath id="ca3"><rect x="429.1" y="701.6" width="214.69999999999993" height="29.0"/></clipPath>
<rect x="429.1" y="671.5" width="214.69999999999993" height="28.299999999999955" fill="#e6e6e6"/>
<rect x="429.1" y="701.6" width="214.69999999999993" height="29.0" fill="#f1f1f1"/>
<g clip-path="url(#cv3)">
<rect x="434" y="668.5" width="36" height="34" rx="17.0" fill="#000" opacity="0.04" filter="url(#b2)" transform="rotate(0 452.0 685.5)"/>
<rect x="476" y="668.5" width="35" height="34" rx="17.0" fill="#000" opacity="0.04" filter="url(#b2)" transform="rotate(0 493.5 685.5)"/>
<rect x="518" y="668.5" width="34" height="34" rx="17.0" fill="#000" opacity="0.04" filter="url(#b2)" transform="rotate(0 535.0 685.5)"/>
<rect x="560" y="668.5" width="34" height="34" rx="17.0" fill="#000" opacity="0.04" filter="url(#b2)" transform="rotate(0 577.0 685.5)"/>
<rect x="602" y="668.5" width="36" height="34" rx="17.0" fill="#000" opacity="0.04" filter="url(#b2)" transform="rotate(0 620.0 685.5)"/>
<rect x="437.5" y="679.7" width="28.899999999999977" height="2.8" rx="1.4" fill="#000" opacity="0.5" filter="url(#b1)" transform="rotate(0 451.95 681.1)"/>
<rect x="437.5" y="687.1" width="28.899999999999977" height="3.2" rx="1.6" fill="#000" opacity="0.55" filter="url(#b1)" transform="rotate(0 451.95 688.7)"/>
<rect x="437.5" y="679.0" width="28.899999999999977" height="12" rx="6.0" fill="#000" opacity="0.08" filter="url(#b2)" transform="rotate(0 451.95 685)"/>
<rect x="479" y="680.5" width="28.600000000000023" height="2.6" rx="1.3" fill="#000" opacity="0.26" filter="url(#b1)" transform="rotate(0 493.3 681.8)"/>
<rect x="478.7" y="687.5" width="28.900000000000034" height="3.4" rx="1.7" fill="#000" opacity="0.55" filter="url(#b1)" transform="rotate(-1 493.15 689.2)"/>
<rect x="479" y="679.0" width="28.600000000000023" height="12" rx="6.0" fill="#000" opacity="0.08" filter="url(#b2)" transform="rotate(0 493.3 685)"/>
<rect x="520.3" y="686.2" width="28.90000000000009" height="2.8" rx="1.4" fill="#000" opacity="0.42" filter="url(#b1)" transform="rotate(-3 534.75 687.6)"/>
<ellipse cx="523" cy="688.4" rx="2.5" ry="1.8" fill="#000" opacity="0.25" filter="url(#b1)" transform="rotate(0 523 688.4)"/>
<rect x="563.2" y="685.1" width="28.799999999999955" height="2.6" rx="1.3" fill="#000" opacity="0.13" filter="url(#b1)" transform="rotate(0 577.6 686.4)"/>
<rect x="563.2" y="676.7" width="28.799999999999955" height="2.6" rx="1.3" fill="#000" opacity="0.07" filter="url(#b1)" transform="rotate(0 577.6 678)"/>
<rect x="606.2" y="685.3" width="28.399999999999977" height="3.4" rx="1.7" fill="#000" opacity="0.42" filter="url(#b1)" transform="rotate(0 620.4000000000001 687)"/>
<rect x="607" y="677.7" width="27" height="2.6" rx="1.3" fill="#000" opacity="0.09" filter="url(#b1)" transform="rotate(0 620.5 679)"/>
</g><g clip-path="url(#ca3)">
<rect x="434.3" y="707.55" width="38.0" height="15.5" rx="7.75" fill="#000" opacity="0.3" filter="url(#b3)" transform="rotate(0 453.3 715.3)"/>
<ellipse cx="453.3" cy="715.3" rx="17.8" ry="6.0" fill="#000" opacity="0.85" filter="url(#b1)" transform="rotate(0 453.3 715.3)"/>
<rect x="437.6" y="710.5" width="31.399999999999977" height="9.6" rx="4.8" fill="#000" opacity="0.96" filter="url(#b1)" transform="rotate(0 453.3 715.3)"/>
<rect x="475.5" y="707.9" width="37.0" height="18.0" rx="9.0" fill="#000" opacity="0.3" filter="url(#b3)" transform="rotate(0 494.0 716.9)"/>
<ellipse cx="494.0" cy="716.9" rx="17.3" ry="7.25" fill="#000" opacity="0.85" filter="url(#b1)" transform="rotate(0 494.0 716.9)"/>
<rect x="478.8" y="710.85" width="30.399999999999977" height="12.1" rx="6.05" fill="#000" opacity="0.96" filter="url(#b1)" transform="rotate(0 494.0 716.9)"/>
<rect x="516.1" y="707.5" width="37.19999999999993" height="15.0" rx="7.5" fill="#000" opacity="0.3" filter="url(#b3)" transform="rotate(0 534.7 715.0)"/>
<ellipse cx="534.7" cy="715.0" rx="17.399999999999967" ry="5.75" fill="#000" opacity="0.85" filter="url(#b1)" transform="rotate(0 534.7 715.0)"/>
<rect x="519.4" y="710.45" width="30.600000000000023" height="9.1" rx="4.55" fill="#000" opacity="0.96" filter="url(#b1)" transform="rotate(0 534.7 715.0)"/>
<rect x="557.3" y="705.3" width="37.200000000000045" height="17.0" rx="8.5" fill="#000" opacity="0.3" filter="url(#b3)" transform="rotate(0 575.9 713.8)"/>
<ellipse cx="575.9" cy="713.8" rx="17.400000000000023" ry="6.75" fill="#000" opacity="0.85" filter="url(#b1)" transform="rotate(0 575.9 713.8)"/>
<rect x="560.5999999999999" y="708.25" width="30.600000000000136" height="11.1" rx="5.55" fill="#000" opacity="0.96" filter="url(#b1)" transform="rotate(0 575.9 713.8)"/>
<rect x="598.5" y="706.45" width="40.60000000000002" height="18.5" rx="9.25" fill="#000" opacity="0.3" filter="url(#b3)" transform="rotate(0 618.8 715.7)"/>
<ellipse cx="618.8" cy="715.7" rx="19.100000000000012" ry="7.5" fill="#000" opacity="0.85" filter="url(#b1)" transform="rotate(0 618.8 715.7)"/>
<rect x="601.8" y="709.4000000000001" width="34.000000000000114" height="12.6" rx="6.3" fill="#000" opacity="0.96" filter="url(#b1)" transform="rotate(0 618.8 715.7)"/>
</g>
<rect x="430.05" y="672.45" width="212.79999999999993" height="26.399999999999956" fill="none" stroke="#000" stroke-width="1.9"/>
<rect x="430.05" y="702.5500000000001" width="212.79999999999993" height="27.1" fill="none" stroke="#000" stroke-width="1.9"/>
<text x="421.2" y="689.5" font-size="9.7" text-anchor="end" fill="#111" stroke="#111" stroke-width="0.25" >VISFATIN</text>
<text x="421.2" y="720.5" font-size="9.7" text-anchor="end" fill="#111" stroke="#111" stroke-width="0.25" >&#946;-ACTIN</text>
<text x="651.6" y="690.7" font-size="9.75" text-anchor="start" fill="#111" stroke="#111" stroke-width="0.25" >56 kDa</text>
<text x="651.6" y="720.4" font-size="9.75" text-anchor="start" fill="#111" stroke="#111" stroke-width="0.25" >42 kDa</text>
<text x="453.3" y="745.5" font-size="10.4" text-anchor="middle" fill="#111" stroke="#111" stroke-width="0.25" >10-12</text>
<text x="499.7" y="745.5" font-size="10.4" text-anchor="middle" fill="#111" stroke="#111" stroke-width="0.25" >10-11</text>
<text x="540.4" y="745.5" font-size="10.4" text-anchor="middle" fill="#111" stroke="#111" stroke-width="0.25" >12-13</text>
<text x="579" y="745.5" font-size="10.4" text-anchor="middle" fill="#111" stroke="#111" stroke-width="0.25" >15-16</text>
<text x="617.5" y="745.5" font-size="10.4" text-anchor="middle" fill="#111" stroke="#111" stroke-width="0.25" >27-28</text>
</g>
</svg>
</body></html>
